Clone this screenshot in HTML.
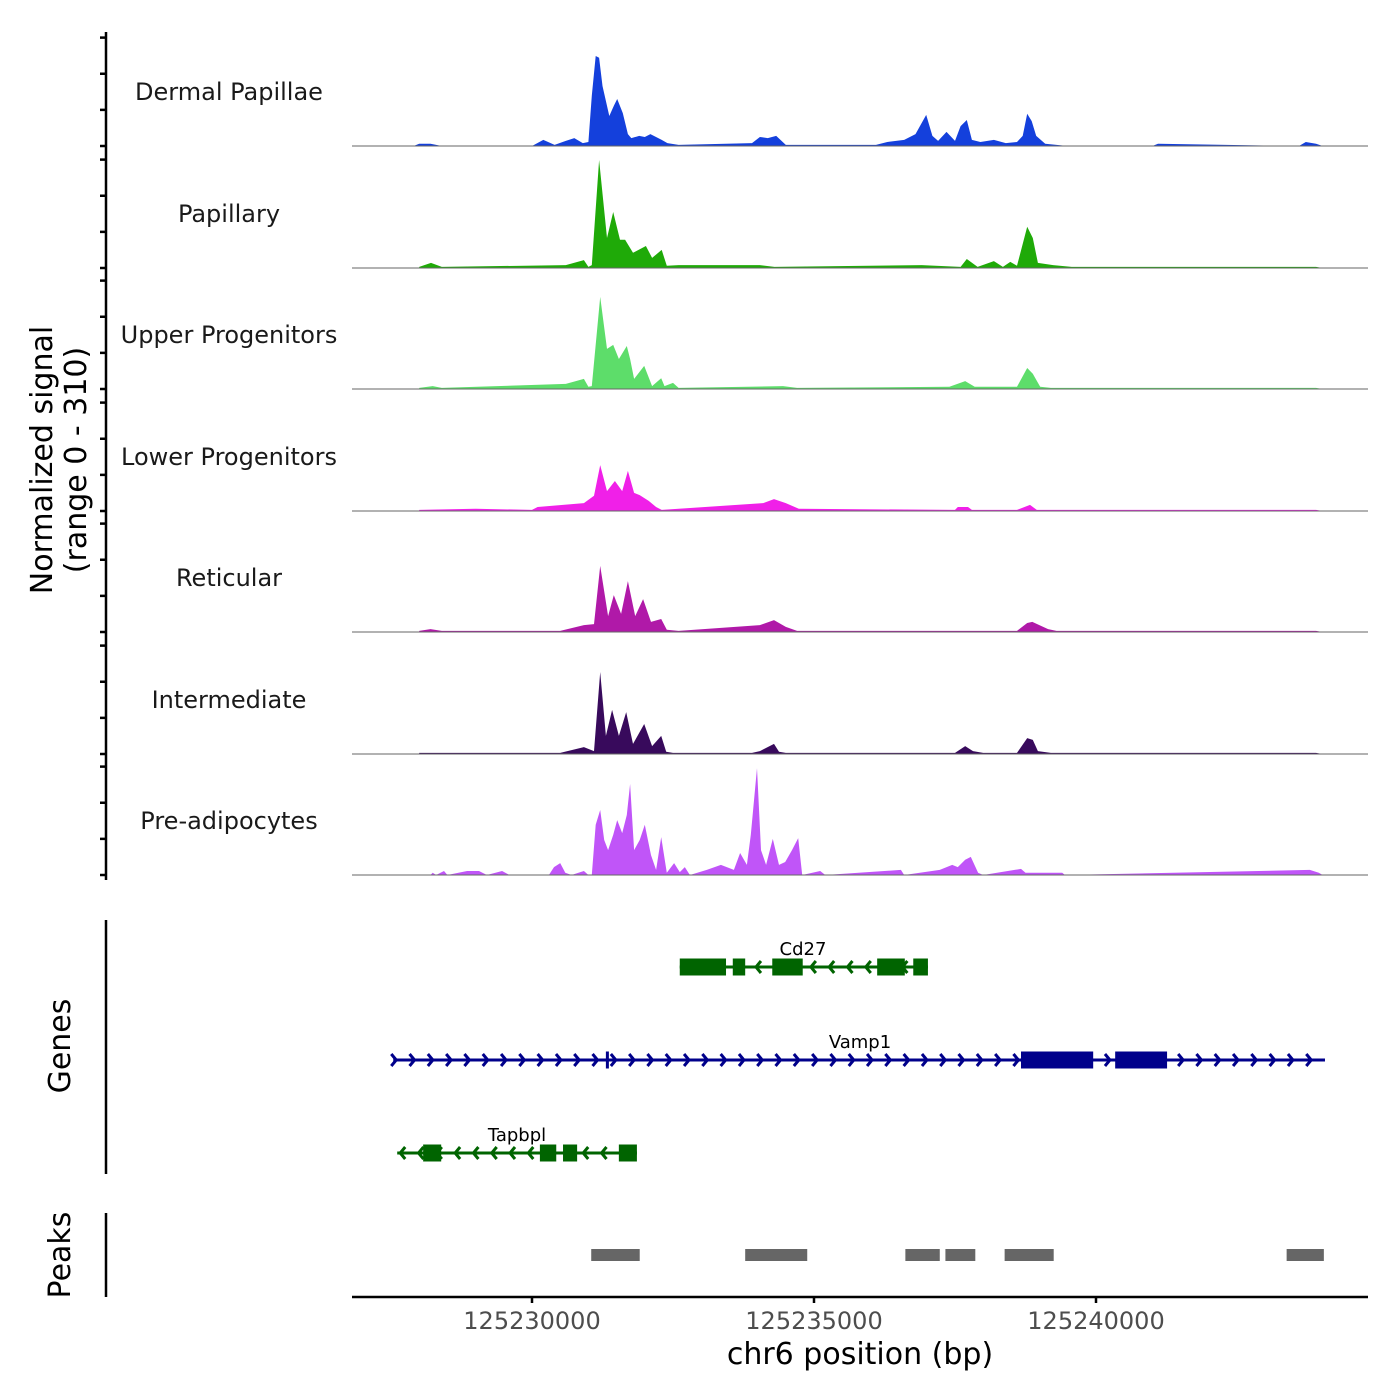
<!DOCTYPE html>
<html><head><meta charset="utf-8"><style>
html,body{margin:0;padding:0;background:#fff;}
svg{display:block;font-family:"DejaVu Sans","Liberation Sans",sans-serif;}
</style></head><body>
<svg id="chart" width="1400" height="1400" viewBox="0 0 1400 1400" xmlns="http://www.w3.org/2000/svg">
<rect width="1400" height="1400" fill="#fff"/>
<g id="tracks"></g>
<g id="genes"></g>
<g id="peaks"></g>
<g id="axes"></g>
<text x="52" y="460" font-size="30" fill="#000" text-anchor="middle" transform="rotate(-90 52 460)">Normalized signal</text>
<text x="86" y="460" font-size="30" fill="#000" text-anchor="middle" transform="rotate(-90 86 460)">(range 0 - 310)</text>
<text x="70" y="1046" font-size="30" fill="#000" text-anchor="middle" transform="rotate(-90 70 1046)">Genes</text>
<text x="70" y="1255" font-size="30" fill="#000" text-anchor="middle" transform="rotate(-90 70 1255)">Peaks</text>
<text x="860" y="1364" font-size="30" fill="#000" text-anchor="middle">chr6 position (bp)</text>
</svg>
<script>
// ---- data (positions in kb relative to chr6:125,000,000; values in normalized signal) ----
const trackNames = ["Dermal Papillae","Papillary","Upper Progenitors","Lower Progenitors","Reticular","Intermediate","Pre-adipocytes"];
const trackColors = ["#1440dc","#1faa08","#5ddd6a","#f020e8","#b019a8","#380a5c","#c055f8"];
const pos0 = [227.9,228.0,228.2,228.4,230.0,230.2,230.4,230.6,230.75,230.9,231.0,231.06,231.13,231.19,231.25,231.37,231.45,231.51,231.61,231.70,231.76,231.9,232.0,232.1,232.3,232.4,232.6,233.9,234.04,234.18,234.33,234.5,236.1,236.3,236.6,236.8,236.99,237.1,237.2,237.35,237.5,237.6,237.71,237.8,237.95,238.19,238.4,238.6,238.7,238.78,238.86,238.94,239.1,239.3,239.5,241.0,241.1,243.6,243.72,243.9,244.02];
const val0 = [0,6,6,0,0,17,3,14,22,8,11,139,249,244,166,83,111,130,91,33,22,28,25,33,17,8,3,8,25,22,28,3,3,11,17,33,86,28,14,39,14,55,72,17,11,17,8,11,28,89,69,28,6,3,0,0,6,0,11,6,0];
const pos1 = [228.0,228.21,228.4,230.6,230.92,231.0,231.06,231.19,231.33,231.44,231.56,231.65,231.79,232.02,232.13,232.30,232.39,232.6,234.04,234.3,236.91,237.6,237.71,237.9,238.19,238.35,238.48,238.6,238.78,238.88,238.97,239.24,239.57,241.5,243.9,244.02];
const val1 = [3,14,3,8,22,3,8,299,83,155,78,78,42,61,28,50,6,8,8,3,8,3,25,3,19,3,17,6,114,83,14,8,3,3,3,0];
const pos2 = [228.0,228.24,228.4,230.6,230.92,231.0,231.06,231.21,231.33,231.44,231.54,231.68,231.74,231.81,231.99,232.13,232.29,232.35,232.50,232.6,234.45,234.7,237.4,237.68,237.85,238.6,238.78,238.88,239.01,239.2,241.0,243.9,244.02];
const val2 = [3,8,3,14,28,6,8,255,111,122,83,119,83,28,64,8,30,8,17,3,8,3,6,22,6,6,58,42,6,3,3,3,0];
const pos3 = [228.0,229.0,230.0,230.1,230.92,231.10,231.21,231.33,231.47,231.60,231.70,231.81,231.91,232.07,232.20,232.3,234.10,234.29,234.50,234.73,237.5,237.55,237.73,237.8,238.6,238.83,238.95,239.2,243.9,244.02];
const val3 = [3,6,3,11,22,42,127,55,83,55,111,50,44,28,11,3,22,33,22,6,3,11,11,3,3,17,3,3,3,0];
const pos4 = [228.0,228.2,228.4,230.5,230.92,231.10,231.21,231.35,231.45,231.58,231.70,231.83,231.97,232.11,232.29,232.39,232.6,234.04,234.29,234.50,234.7,238.6,238.78,238.87,239.15,239.3,243.9,244.02];
const val4 = [3,8,3,3,19,22,183,44,102,50,141,44,91,28,36,6,3,19,33,14,3,3,25,28,8,3,3,0];
const pos5 = [228.0,229.5,230.5,230.92,231.10,231.21,231.31,231.42,231.54,231.67,231.79,231.99,232.13,232.29,232.38,232.5,233.9,234.04,234.29,234.38,234.5,237.5,237.68,237.82,238.0,238.6,238.78,238.88,238.97,239.2,243.9,244.02];
const val5 = [3,3,3,19,8,227,50,122,50,116,28,83,22,50,6,3,3,8,28,6,3,3,22,8,3,3,44,39,8,3,3,0];
const pos6 = [228.2,228.24,228.3,228.44,228.5,228.85,229.06,229.2,229.47,229.6,230.3,230.39,230.50,230.59,230.7,230.92,231.0,231.06,231.13,231.21,231.28,231.35,231.44,231.51,231.60,231.68,231.74,231.81,231.91,232.00,232.11,232.20,232.29,232.39,232.52,232.62,232.71,232.8,233.10,233.35,233.58,233.69,233.81,233.88,233.99,234.06,234.15,234.27,234.38,234.49,234.61,234.72,234.79,235.11,235.2,236.54,236.6,237.23,237.45,237.55,237.68,237.78,237.91,238.0,238.67,238.75,239.40,239.45,243.79,243.95,244.02];
const val6 = [0,6,0,11,0,11,11,0,11,0,0,22,33,6,0,11,0,0,139,180,97,69,111,152,116,166,252,69,97,139,55,14,105,6,33,8,22,0,14,28,14,61,28,111,296,69,28,100,28,36,69,102,0,11,0,14,0,14,28,22,42,50,6,0,17,6,6,0,14,6,0];

const xTicks = [230,235,240];
const xTickLabels = ["125230000","125235000","125240000"];
const yTickValues = [0,100,200,300];

const geneNames = ["Cd27","Vamp1","Tapbpl"];
const geneStart = [232.62,227.54,227.61];
const geneEnd = [237.02,244.06,231.86];
const geneStrand = [-1,1,-1];
const geneColors = ["#006400","#00008b","#006400"];
const geneExonStarts = [[232.62,233.56,234.26,236.12,236.76],[231.31,238.67,240.34],[228.07,230.14,230.55,231.54]];
const geneExonEnds = [[233.44,233.78,234.80,236.61,237.02],[231.36,239.95,241.26],[228.39,230.43,230.80,231.86]];
const peakStarts = [231.05,233.78,236.62,237.33,238.38,243.38];
const peakEnds = [231.91,234.88,237.23,237.86,239.25,244.04];

// ---- scales ----
const NS="http://www.w3.org/2000/svg";
const X0=352, X1=1368;
function xs(kb){ return 532 + (kb-230)*56.4; }
const baselines=[146,268,389,511,632,754,875];
const panelH=112;
function ys(v,b){ return b - v/310*panelH; }
function mk(tag,attrs,parent){const e=document.createElementNS(NS,tag);for(const k in attrs)e.setAttribute(k,attrs[k]);parent.appendChild(e);return e;}

const tg=document.getElementById('tracks');
const positions=[pos0,pos1,pos2,pos3,pos4,pos5,pos6];
const values=[val0,val1,val2,val3,val4,val5,val6];
for(let t=0;t<7;t++){
  const b=baselines[t];
  const P=positions[t],V=values[t];
  let d='M'+xs(P[0]).toFixed(1)+','+b;
  for(let i=0;i<P.length;i++) d+=' L'+xs(P[i]).toFixed(1)+','+ys(V[i],b).toFixed(1);
  d+=' L'+xs(P[P.length-1]).toFixed(1)+','+b+' Z';
  const a=mk('path',{d:d,fill:trackColors[t]},tg);
  
  
  const l=mk('line',{x1:X0,x2:X1,y1:b,y2:b,stroke:'#666','stroke-width':1},tg);
  
  
  const lab=mk('text',{x:229,y:b-46,'font-size':24,'text-anchor':'middle',fill:'#1a1a1a'},tg);
  lab.textContent=trackNames[t];
  
  
}

// ---- axes ----
const ax=document.getElementById('axes');
let yl=mk('line',{x1:106,x2:106,y1:32,y2:880,stroke:'#000','stroke-width':2.5},ax);


for(let t=0;t<7;t++){
  for(const v of yTickValues){
    const y=ys(v,baselines[t]);
    const tk=mk('line',{x1:100,x2:106,y1:y,y2:y,stroke:'#000','stroke-width':2.5},ax);
    
    
  }
}
let gl=mk('line',{x1:106,x2:106,y1:920,y2:1174,stroke:'#000','stroke-width':2.5},ax);


let pl=mk('line',{x1:106,x2:106,y1:1213,y2:1297,stroke:'#000','stroke-width':2.5},ax);


let xl=mk('line',{x1:X0,x2:X1,y1:1297,y2:1297,stroke:'#000','stroke-width':2.5},ax);


for(let i=0;i<xTicks.length;i++){
  const x=xs(xTicks[i]);
  const tk=mk('line',{x1:x,x2:x,y1:1297,y2:1303,stroke:'#000','stroke-width':2.5},ax);
  
  
  const tl=mk('text',{x:x,y:1329,'font-size':24,'text-anchor':'middle',fill:'#4d4d4d'},ax);
  tl.textContent=xTickLabels[i];
  
  
}

// ---- genes ----
const gg=document.getElementById('genes');
const geneY=[967,1060,1153];
const labelX=[803,860,517];
for(let g=0;g<geneNames.length;g++){
  const y=geneY[g], c=geneColors[g];
  const xa=xs(geneStart[g]), xb=xs(geneEnd[g]);
  const ln=mk('line',{x1:xa,x2:xb,y1:y,y2:y,stroke:c,'stroke-width':3},gg);
  
  
  const s=geneStrand[g];
  let d='';
  for(let i=0;;i++){
    const x = xa+3+i*18.3;
    if(x>xb) break;
    d+='M'+(x-5*s)+','+(y-6)+' L'+x+','+y+' L'+(x-5*s)+','+(y+6)+' ';
  }
  const ar=mk('path',{d:d,stroke:c,'stroke-width':3,fill:'none'},gg);
  
  
  for(let e=0;e<geneExonStarts[g].length;e++){
    const ex1=xs(geneExonStarts[g][e]), ex2=xs(geneExonEnds[g][e]);
    const r=mk('rect',{x:ex1,y:y-8.5,width:Math.max(ex2-ex1,3),height:17,fill:c},gg);
    
    
  }
  const lab=mk('text',{x:labelX[g],y:y-12,'font-size':18,'text-anchor':'middle',fill:'#000'},gg);
  lab.textContent=geneNames[g];
  
  
}

// ---- peaks ----
const pg=document.getElementById('peaks');
for(let i=0;i<peakStarts.length;i++){
  const r=mk('rect',{x:xs(peakStarts[i]),y:1249,width:xs(peakEnds[i])-xs(peakStarts[i]),height:12,fill:'#666'},pg);
  
  
}
</script>
</body></html>
